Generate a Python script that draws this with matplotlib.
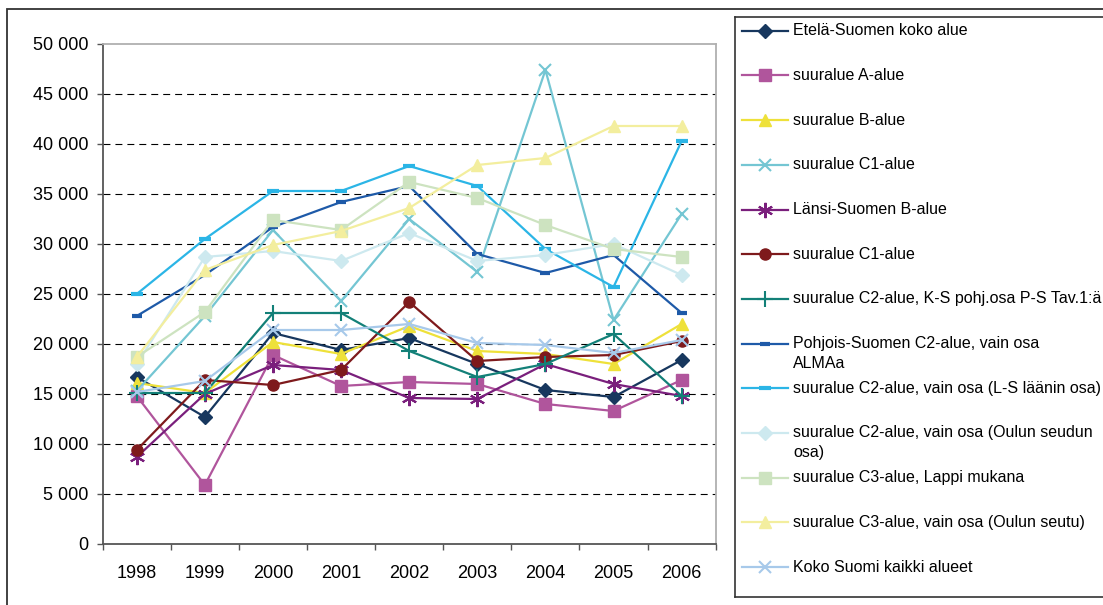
import numpy as np
import matplotlib
matplotlib.use('Agg')
from matplotlib import pyplot as plt
from matplotlib.patches import Rectangle
from matplotlib.ticker import FuncFormatter, FixedLocator

plt.rcParams['font.family'] = ['Liberation Sans', 'DejaVu Sans']
plt.rcParams['lines.scale_dashes'] = False

# data
years = ['1998', '1999', '2000', '2001', '2002', '2003', '2004', '2005', '2006']

etela = [16700, 12700, 21100, 19400, 20600, 18000, 15400, 14700, 18400]
a_alue = [14800, 5900, 18900, 15800, 16200, 16000, 14000, 13300, 16400]
b_alue = [16100, 15100, 20200, 19000, 21800, 19300, 19000, 18000, 22000]
c1_alue = [15300, 22800, 31400, 24300, 32500, 27200, 47400, 22400, 33000]
lansi_b = [8700, 15000, 17900, 17400, 14600, 14500, 18000, 16000, 14800]
c1_alue_2 = [9400, 16400, 15900, 17400, 24200, 18300, 18700, 18900, 20300]
c2_ks = [15100, 15100, 23100, 23100, 19300, 16700, 18000, 21000, 14800]
pohjois_c2 = [22800, 26900, 31700, 34200, 35800, 29000, 27100, 28900, 23100]
c2_ls = [25000, 30500, 35300, 35300, 37800, 35800, 29500, 25700, 40300]
c2_oulu = [18000, 28700, 29300, 28300, 31100, 28300, 28900, 30000, 26900]
c3_lappi = [18700, 23200, 32400, 31400, 36200, 34600, 31900, 29500, 28700]
c3_oulu = [18700, 27400, 29900, 31300, 33600, 37900, 38600, 41800, 41800]
koko = [15200, 16300, 21400, 21400, 22000, 20100, 19900, 19100, 20400]

labels = [
    'Etelä-Suomen koko alue',
    'suuralue A-alue',
    'suuralue B-alue',
    'suuralue C1-alue',
    'Länsi-Suomen B-alue',
    'suuralue C1-alue',
    'suuralue C2-alue, K-S pohj.osa P-S Tav.1:ä',
    'Pohjois-Suomen C2-alue, vain osa\nALMAa',
    'suuralue C2-alue, vain osa (L-S läänin osa)',
    'suuralue C2-alue, vain osa (Oulun seudun\nosa)',
    'suuralue C3-alue, Lappi mukana',
    'suuralue C3-alue, vain osa (Oulun seutu)',
    'Koko Suomi kaikki alueet',
]
series = [etela, a_alue, b_alue, c1_alue, lansi_b, c1_alue_2, c2_ks,
          pohjois_c2, c2_ls, c2_oulu, c3_lappi, c3_oulu, koko]

asterisk = (6, 2, 0)
# color, marker, markersize, marker edge width
styles = [
    ('#17375E', 'D', 7, 1),
    ('#B0559C', 's', 8.5, 1),
    ('#EEE13A', '^', 9, 1),
    ('#74C6D3', 'x', 9, 1.5),
    ('#7A1F7C', asterisk, 11, 1.5),
    ('#7E1A1C', 'o', 8, 1),
    ('#138078', '+', 11, 1.5),
    ('#1E5AA8', '_', 7, 3),
    ('#2BB5E6', '_', 9, 3),
    ('#CDE9EF', 'D', 7, 1),
    ('#CDE3C0', 's', 8.5, 1),
    ('#F3EE9E', '^', 9, 1),
    ('#A7C9EA', 'x', 9, 1.5),
]

W, H = 1103, 605
fig = plt.figure(figsize=(W / 100, H / 100), dpi=100)

# outer chart border (only top and left visible)
fig.add_artist(Rectangle((7 / W, -0.5), 2, 1.5 - 9 / H, transform=fig.transFigure,
                         fill=False, edgecolor='#333333', lw=1.3))

ax = fig.add_axes([102.7 / W, 61 / H, 613 / W, 500 / H])
x = np.arange(len(years))
for vals, lab, (c, m, ms, mew) in zip(series, labels, styles):
    ax.plot(x, vals, color=c, lw=1.6, marker=m, ms=ms, mew=mew,
            mfc=c, mec=c, label=lab)

ax.set_xlim(-0.5, len(years) - 0.5)
ax.set_ylim(0, 50000)
ax.set_yticks(np.arange(0, 50001, 5000))
ax.yaxis.set_major_formatter(FuncFormatter(lambda v, p: f'{int(v):,}'.replace(',', ' ')))
for v in ax.get_yticks()[1:-1]:
    ax.axhline(v, color='black', lw=0.8, ls=(0, (5, 3.6)), zorder=0.5)

ax.set_xticks(x)
ax.set_xticklabels(years)
ax.xaxis.set_minor_locator(FixedLocator(np.arange(-0.5, len(years), 1.0)))
ax.tick_params(axis='x', which='major', length=0, pad=15, labelsize=13)
ax.tick_params(axis='x', which='minor', length=4.5, width=1, color='#555555')
ax.tick_params(axis='y', length=4.5, width=1, color='#555555', pad=6, labelsize=13)

for s in ['left', 'bottom']:
    ax.spines[s].set_color('#555555')
    ax.spines[s].set_linewidth(1.3)
for s in ['top', 'right']:
    ax.spines[s].set_color('#B0B0B0')
    ax.spines[s].set_linewidth(1.3)

# legend box drawn by hand so entries keep Excel's even spacing
lg = fig.add_axes([735 / W, 8 / H, 400 / W, 580 / H])
lg.set_xlim(0, 400)
lg.set_ylim(580, 0)
lg.set_xticks([])
lg.set_yticks([])
for s in ['left', 'top', 'bottom']:
    lg.spines[s].set_color('#333333')
    lg.spines[s].set_linewidth(1.2)
lg.spines['right'].set_visible(False)

step = 44.7
for i, (lab, (c, m, ms, mew)) in enumerate(zip(labels, styles)):
    y = 13.7 + i * step
    lg.plot([7, 30, 53], [y, y, y], color=c, lw=1.6, marker=m, ms=ms, mew=mew,
            mfc=c, mec=c, markevery=[1])
    for k, line in enumerate(lab.split('\n')):
        lg.text(58, y + k * 19.5, line, va='center', ha='left', fontsize=11.5,
                color='black')

fig.savefig('out.png', dpi=100)
